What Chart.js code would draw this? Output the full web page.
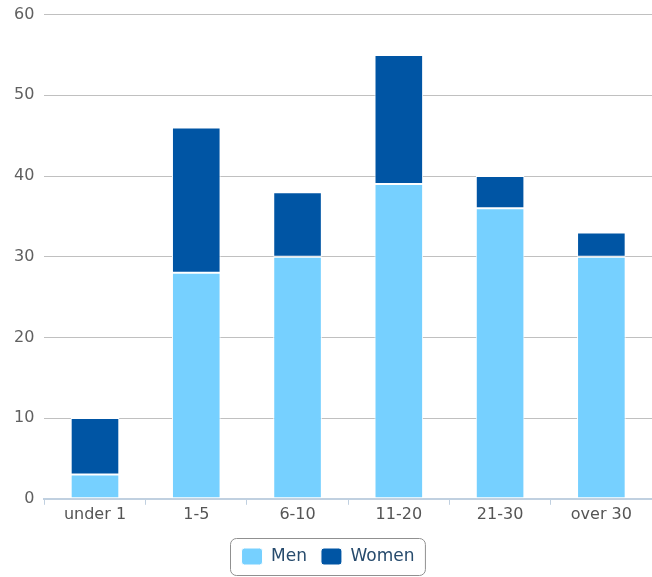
<!DOCTYPE html>
<html>
<head>
<meta charset="utf-8">
<script src="https://cdn.jsdelivr.net/npm/chart.js@4/dist/chart.umd.min.js"></script>
<style>
  html, body { margin: 0; padding: 0; background: #fff; }
  #wrap { width: 652px; height: 577px; }
</style>
</head>
<body>
<div id="wrap"><canvas id="grafico"></canvas></div>
<script>
const categorias = ['under 1', '1-5', '6-10', '11-20', '21-30', 'over 30'];
const homens = [3, 28, 30, 39, 36, 30];
const mulheres = [7, 18, 8, 16, 4, 3];
const ticksY = [0, 10, 20, 30, 40, 50, 60];

// caixa arredondada em volta da legenda
const caixaLegenda = {
  id: 'caixaLegenda',
  afterDraw(chart) {
    const leg = chart.legend;
    if (!leg || !leg.legendHitBoxes.length) return;
    const boxes = leg.legendHitBoxes;
    const x0 = boxes[0].left - 12;
    const x1 = boxes[boxes.length - 1].left + boxes[boxes.length - 1].width + 10;
    const y0 = boxes[0].top - 10;
    const y1 = boxes[0].top + boxes[0].height + 10;
    const ctx = chart.ctx;
    ctx.save();
    ctx.strokeStyle = '#909090';
    ctx.lineWidth = 1;
    ctx.beginPath();
    ctx.roundRect(Math.round(x0) + 0.5, Math.round(y0) + 0.5, x1 - x0, y1 - y0, 6);
    ctx.stroke();
    ctx.restore();
  }
};

const ctx = document.getElementById('grafico').getContext('2d');
new Chart(ctx, {
  type: 'bar',
  data: {
    labels: categorias,
    datasets: [
      { label: 'Men', data: homens, backgroundColor: '#76d0ff', borderColor: '#ffffff', borderWidth: 1, borderSkipped: false },
      { label: 'Women', data: mulheres, backgroundColor: '#0055a4', borderColor: '#ffffff', borderWidth: 1, borderSkipped: false }
    ]
  },
  plugins: [caixaLegenda],
  options: {
    responsive: true,
    maintainAspectRatio: false,
    animation: false,
    barPercentage: 0.48,
    categoryPercentage: 1,
    layout: { padding: { top: 0, right: 0, left: 4, bottom: 2 } },
    plugins: {
      tooltip: { enabled: false },
      legend: {
        position: 'bottom',
        labels: {
          boxWidth: 21,
          boxHeight: 17,
          padding: 14,
          color: '#274b6d',
          font: { family: 'DejaVu Sans', size: 17 },
          useBorderRadius: true,
          borderRadius: 3
        }
      }
    },
    scales: {
      x: {
        stacked: true,
        afterFit: (eixo) => { eixo.height += 10; },
        grid: { display: true, drawOnChartArea: false, color: '#c0d0e0', tickLength: 6, offset: true },
        border: { display: true, color: '#c0d0e0', width: 2 },
        ticks: { color: '#555555', font: { family: 'DejaVu Sans', size: 16 }, padding: 0 }
      },
      y: {
        stacked: true,
        min: ticksY[0],
        max: ticksY[ticksY.length - 1],
        afterBuildTicks: (eixo) => { eixo.ticks = ticksY.map(v => ({ value: v })); },
        afterFit: (eixo) => { eixo.paddingTop = Math.max(eixo.paddingTop - 5, 0); },
        grid: { color: '#c0c0c0', lineWidth: 1, drawTicks: false },
        border: { display: false },
        ticks: { color: '#606060', font: { family: 'DejaVu Sans', size: 16 }, padding: 10 }
      }
    }
  }
});
</script>
</body>
</html>
